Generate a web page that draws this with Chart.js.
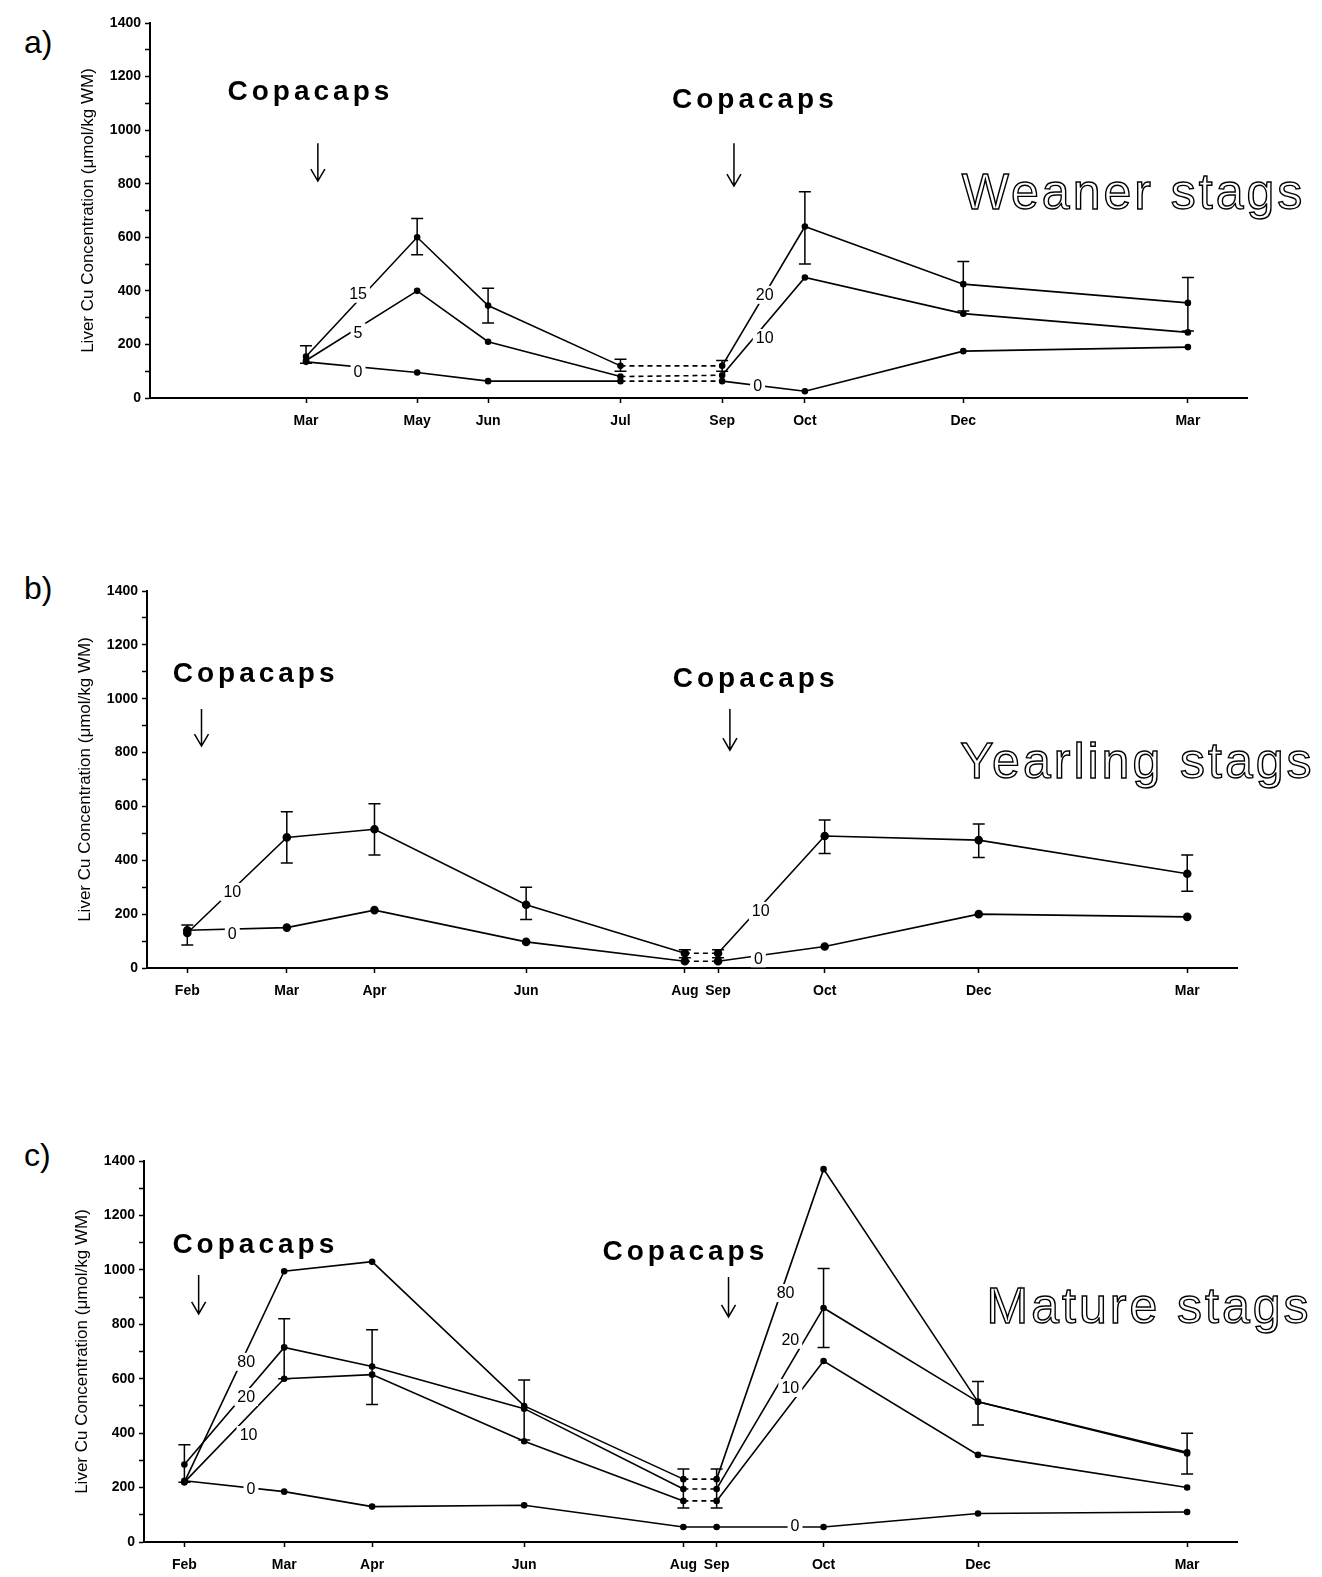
<!DOCTYPE html>
<html>
<head>
<meta charset="utf-8">
<script src="https://cdn.jsdelivr.net/npm/chart.js@4.4.0/dist/chart.umd.min.js"></script>
<style>
  body { margin: 0; background: #fff; overflow: hidden; width: 1322px; height: 1577px; position: relative; }
  .panel { position: absolute; left: 0; width: 1322px; height: 440px; }
  .tag { position: absolute; left: 24px; font: 32px "Liberation Sans", Arial, sans-serif; line-height: 1; color: #000; }
</style>
</head>
<body>
<div class="tag" style="top:26px">a)</div>
<div class="tag" style="top:572px">b)</div>
<div class="tag" style="top:1139px">c)</div>
<div class="panel" style="top:0px"><canvas id="chartA"></canvas></div>
<div class="panel" style="top:568px"><canvas id="chartB"></canvas></div>
<div class="panel" style="top:1137px"><canvas id="chartC"></canvas></div>
<script>
// a) Weaner stags - sampling days (from start of axis) and month labels
var weanerDays = [66, 113, 143, 199, 242, 277, 344, 439];
var weanerMonths = ['Mar', 'May', 'Jun', 'Jul', 'Sep', 'Oct', 'Dec', 'Mar'];
var weanerHigh = [155, 600, 345, 120, 120, 640, 425, 355];   // 15 then 20
var weanerHighLo = [130, 535, 280, 100, 100, 500, 325, 250];
var weanerHighHi = [195, 670, 410, 145, 140, 770, 510, 450];
var weanerLow = [140, 400, 210, 80, 85, 450, 315, 245];      // 5 then 10
var weanerControl = [135, 95, 63, 63, 63, 25, 175, 190];     // 0

// b) Yearling stags
var yearlingDays = [17, 59, 96, 160, 227, 241, 286, 351, 439];
var yearlingMonths = ['Feb', 'Mar', 'Apr', 'Jun', 'Aug', 'Sep', 'Oct', 'Dec', 'Mar'];
var yearling10 = [130, 485, 515, 235, 55, 55, 490, 475, 350];
var yearling10Lo = [85, 390, 420, 180, 38, 38, 425, 410, 285];
var yearling10Hi = [160, 580, 610, 300, 68, 68, 550, 535, 420];
var yearling0 = [140, 150, 215, 97, 25, 25, 80, 200, 190];

// c) Mature stags
var matureDays = [17, 59, 96, 160, 227, 241, 286, 351, 439];
var matureMonths = ['Feb', 'Mar', 'Apr', 'Jun', 'Aug', 'Sep', 'Oct', 'Dec', 'Mar'];
var mature80 = [220, 995, 1030, 500, 231, 231, 1370, 515, 330];
var mature20 = [285, 715, 645, 490, 195, 195, 860, 515, 325];
var mature20Lo = [220, 600, 505, 375, 125, 125, 715, 430, 250];
var mature20Hi = [357, 820, 780, 595, 268, 268, 1005, 590, 400];
var mature10 = [220, 600, 615, 370, 151, 151, 665, 320, 200];
var mature0 = [225, 185, 130, 135, 55, 55, 55, 105, 110];

var yTitle = 'Liver Cu Concentration (\u03bcmol/kg WM)';

function pts(days, vals) {
    return days.map(function(d, i) { return {x: d, y: vals[i]}; });
}

function lineSet(days, vals, gapIdx, r, lo, hi) {
    return {
        data: pts(days, vals),
        borderColor: '#000',
        backgroundColor: '#000',
        borderWidth: 1.6,
        pointRadius: r,
        pointHoverRadius: r,
        tension: 0,
        errLo: lo,
        errHi: hi,
        segment: {
            borderDash: function(ctx) { return ctx.p0DataIndex === gapIdx ? [5, 4] : undefined; }
        }
    };
}

// draws error bars, line labels, "Copacaps" notes, arrows and the panel title
var decor = {
    id: 'decor',
    afterDatasetsDraw: function(chart, args, opts) {
        var ctx = chart.ctx;
        var xs = chart.scales.x, ys = chart.scales.y;
        ctx.save();
        ctx.strokeStyle = '#000';
        ctx.fillStyle = '#000';

        chart.data.datasets.forEach(function(ds) {
            if (!ds.errLo) return;
            ctx.lineWidth = 1.5;
            ds.data.forEach(function(p, i) {
                var x = xs.getPixelForValue(p.x);
                var y1 = ys.getPixelForValue(ds.errLo[i]);
                var y2 = ys.getPixelForValue(ds.errHi[i]);
                ctx.beginPath();
                ctx.moveTo(x, y1); ctx.lineTo(x, y2);
                ctx.moveTo(x - 6, y1); ctx.lineTo(x + 6, y1);
                ctx.moveTo(x - 6, y2); ctx.lineTo(x + 6, y2);
                ctx.stroke();
            });
        });

        ctx.font = '16px "Liberation Sans", Arial, sans-serif';
        ctx.textAlign = 'center';
        ctx.textBaseline = 'middle';
        opts.labels.forEach(function(l) {
            var x = xs.getPixelForValue(l[1]);
            var y = ys.getPixelForValue(l[2]);
            var w = ctx.measureText(l[0]).width;
            ctx.fillStyle = '#fff';
            ctx.fillRect(x - w / 2 - 3, y - 9, w + 6, 18);
            ctx.fillStyle = '#000';
            ctx.fillText(l[0], x, y + 1);
        });

        ctx.font = 'bold 28px "Liberation Sans", Arial, sans-serif';
        ctx.letterSpacing = '4px';
        opts.notes.forEach(function(n) {
            ctx.fillText('Copacaps', xs.getPixelForValue(n[0]) + 2, ys.getPixelForValue(n[1]));
        });
        ctx.letterSpacing = '0px';

        ctx.lineWidth = 1.5;
        opts.arrows.forEach(function(a) {
            var x = xs.getPixelForValue(a[0]);
            var t = ys.getPixelForValue(a[1]);
            var b = ys.getPixelForValue(a[2]);
            ctx.beginPath();
            ctx.moveTo(x, t); ctx.lineTo(x, b);
            ctx.moveTo(x - 7, b - 12); ctx.lineTo(x, b); ctx.lineTo(x + 7, b - 12);
            ctx.stroke();
        });

        ctx.font = '50px "Liberation Sans", Arial, sans-serif';
        ctx.letterSpacing = '3px';
        ctx.lineWidth = 1.4;
        ctx.strokeText(opts.title[0], xs.getPixelForValue(opts.title[1]), ys.getPixelForValue(opts.title[2]));
        ctx.restore();
    }
};

function makeChart(id, days, months, datasets, pad, xMax, decorOpts) {
    var tickFont = {family: '"Liberation Sans Narrow", "Liberation Sans", Arial, sans-serif', size: 14, weight: 'bold'};
    return new Chart(document.getElementById(id), {
        type: 'line',
        data: {datasets: datasets},
        plugins: [decor],
        options: {
            responsive: true,
            maintainAspectRatio: false,
            animation: false,
            events: [],
            layout: {padding: pad},
            plugins: {
                legend: {display: false},
                tooltip: {enabled: false},
                decor: decorOpts
            },
            scales: {
                x: {
                    type: 'linear',
                    min: 0,
                    max: xMax,
                    afterFit: function(s) { s.height = 30; },
                    afterBuildTicks: function(s) {
                        s.ticks = days.map(function(d) { return {value: d}; });
                    },
                    ticks: {
                        autoSkip: false,
                        maxRotation: 0,
                        padding: 10,
                        color: '#000',
                        font: tickFont,
                        callback: function(v, i) { return months[i]; }
                    },
                    grid: {drawOnChartArea: false, tickLength: 5, color: '#000', tickWidth: 1.5},
                    border: {color: '#000', width: 2}
                },
                y: {
                    min: 0,
                    max: 1400,
                    afterFit: function(s) { s.width = 74; },
                    ticks: {
                        stepSize: 100,
                        padding: 4,
                        color: '#000',
                        font: tickFont,
                        callback: function(v) { return v % 200 === 0 ? v : ''; }
                    },
                    grid: {drawOnChartArea: false, tickLength: 5, color: '#000', tickWidth: 1.5},
                    border: {color: '#000', width: 2},
                    title: {
                        display: true,
                        text: yTitle,
                        color: '#000',
                        padding: {top: 2, bottom: 0},
                        font: {family: '"Liberation Sans", Arial, sans-serif', size: 17}
                    }
                }
            }
        }
    });
}

makeChart('chartA', weanerDays, weanerMonths, [
    lineSet(weanerDays, weanerHigh, 3, 2.5, weanerHighLo, weanerHighHi),
    lineSet(weanerDays, weanerLow, 3, 2.5),
    lineSet(weanerDays, weanerControl, 3, 2.5)
], {left: 76, right: 75, top: 23, bottom: 12}, 464, {
    labels: [['15', 88, 389], ['5', 88, 246], ['0', 88, 97], ['20', 260, 385], ['10', 260, 224], ['0', 257, 45]],
    notes: [[67, 1140], [255, 1113]],
    arrows: [[71, 951, 810], [247, 951, 791]],
    title: ['Weaner stags', 416, 757]
});

makeChart('chartB', yearlingDays, yearlingMonths, [
    lineSet(yearlingDays, yearling10, 4, 3.5, yearling10Lo, yearling10Hi),
    lineSet(yearlingDays, yearling0, 4, 3.5)
], {left: 73, right: 85, top: 23, bottom: 10}, 460, {
    labels: [['10', 36, 282], ['0', 36, 129], ['10', 259, 212], ['0', 258, 36]],
    notes: [[45, 1092], [256, 1074]],
    arrows: [[23, 962, 824], [246, 962, 809]],
    title: ['Yearling stags', 418, 757]
});

makeChart('chartC', matureDays, matureMonths, [
    lineSet(matureDays, mature80, 4, 2.5),
    lineSet(matureDays, mature20, 4, 2.5, mature20Lo, mature20Hi),
    lineSet(matureDays, mature10, 4, 2.5),
    lineSet(matureDays, mature0, -1, 2.5)
], {left: 70, right: 85, top: 24, bottom: 5}, 460, {
    labels: [['80', 43, 662], ['20', 43, 533], ['10', 44, 393], ['0', 45, 198],
             ['80', 270, 915], ['20', 272, 743], ['10', 272, 566], ['0', 274, 62]],
    notes: [[46, 1091], [227, 1066]],
    arrows: [[23, 981, 838], [246, 974, 827]],
    title: ['Mature stags', 423, 856]
});
</script>
</body>
</html>
